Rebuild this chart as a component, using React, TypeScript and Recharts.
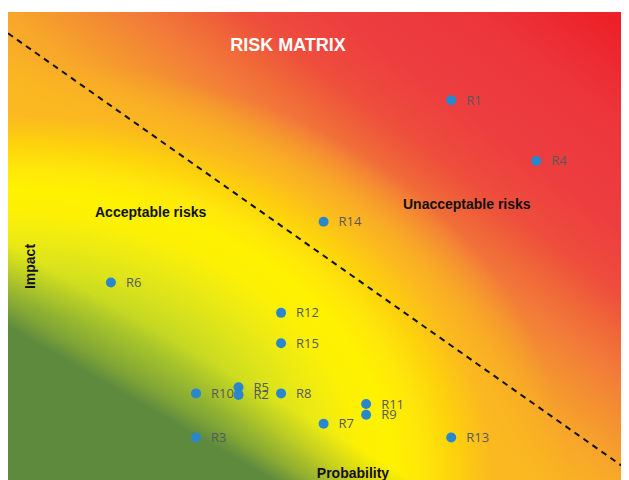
import React from 'react';
import { ScatterChart, Scatter, XAxis, YAxis, ReferenceArea, ReferenceLine } from 'recharts';

const names = ['R1', 'R2', 'R3', 'R4', 'R5', 'R6', 'R7', 'R8', 'R9', 'R10', 'R11', 'R12', 'R13', 'R14', 'R15'];
const probability = [10, 5, 4, 12, 5, 2, 7, 6, 8, 4, 8, 6, 10, 7, 6];
const impact = [12, 2.3, 0.9, 10, 2.55, 6, 1.35, 2.35, 1.65, 2.35, 2, 5, 0.9, 8, 4];

const xDomain = [-0.42, 14.18];
const yDomain = [-0.5, 14.9];
const threshold = [
  { x: -0.42, y: 14.2 },
  { x: 14.18, y: -0.2 },
];

const risks = names.map((name, i) => ({ name, x: probability[i], y: impact[i] }));

// orange -> red along the diagonal
const warmStops: [number, string][] = [
  [0, '#fbb820'],
  [0.42, '#fbb820'],
  [0.5, '#f7a62a'],
  [0.565, '#f38c33'],
  [0.61, '#f2783a'],
  [0.64, '#f06a38'],
  [0.69, '#ee4e3c'],
  [0.76, '#ed3e3f'],
  [0.87, '#ec363c'],
  [1, '#ed1c24'],
];

// lime -> yellow, spreading out of the bottom-left corner
const yellowStops: [number, string, number][] = [
  [0, '#a8c42d', 1],
  [0.36, '#b4cf28', 1],
  [0.45, '#d6e11d', 1],
  [0.52, '#eeeb12', 1],
  [0.57, '#fcf005', 1],
  [0.62, '#fff200', 1],
  [0.67, '#fee60a', 1],
  [0.72, '#fdd20c', 1],
  [0.78, '#fbb820', 1],
  [0.9, '#fbb820', 0],
];

// flat green wedge in the bottom-left corner
const greenStops: [number, number][] = [
  [0, 1],
  [0.557, 1],
  [0.637, 0.6],
  [0.746, 0.25],
  [0.855, 0],
];

const RiskDot = (props: any) => {
  const { cx, cy, payload } = props;
  return (
    <g>
      <circle cx={cx} cy={cy} r={5} fill="#2b87cb" />
      <text
        x={cx + 15}
        y={cy}
        dy="0.35em"
        fontSize={13}
        fontFamily="'Open Sans', sans-serif"
        fill="#595959"
      >
        {payload.name}
      </text>
    </g>
  );
};

const bold = "'Liberation Sans', Arial, sans-serif";

export default function App() {
  return (
    <div style={{ position: 'relative', width: 621, height: 472 }}>
      <ScatterChart width={621} height={472} margin={{ top: 4, right: 0, bottom: 0, left: 0 }}>
        <defs>
          <linearGradient id="warmBg" x1="0" y1="1" x2="1" y2="0">
            {warmStops.map(([o, c]) => (
              <stop key={o} offset={o} stopColor={c} />
            ))}
          </linearGradient>
          <radialGradient id="yellowBg" cx="0" cy="1" r="1" fx="0" fy="1">
            {yellowStops.map(([o, c, a]) => (
              <stop key={o} offset={o} stopColor={c} stopOpacity={a} />
            ))}
          </radialGradient>
          <linearGradient id="greenBg" gradientUnits="userSpaceOnUse" x1={0} y1={472} x2={119.5} y2={265.9}>
            {greenStops.map(([o, a]) => (
              <stop key={o} offset={o} stopColor="#5e8a3e" stopOpacity={a} />
            ))}
          </linearGradient>
        </defs>
        <XAxis type="number" dataKey="x" domain={xDomain} allowDataOverflow hide />
        <YAxis type="number" dataKey="y" domain={yDomain} allowDataOverflow hide />
        {['warmBg', 'yellowBg', 'greenBg'].map((id) => (
          <ReferenceArea
            key={id}
            x1={xDomain[0]}
            x2={xDomain[1]}
            y1={yDomain[0]}
            y2={yDomain[1]}
            fill={`url(#${id})`}
            fillOpacity={1}
            stroke="none"
          />
        ))}
        <ReferenceLine segment={threshold} stroke="#111" strokeWidth={2} strokeDasharray="6 5" />
        <Scatter data={risks} shape={RiskDot} isAnimationActive={false} />
      </ScatterChart>
      <svg
        width={621}
        height={472}
        style={{ position: 'absolute', left: 0, top: 0, pointerEvents: 'none' }}
      >
        <text x={280} y={43} textAnchor="middle" fill="#fff" fontSize={18} fontWeight="bold" fontFamily={bold}>
          RISK MATRIX
        </text>
        <text x={87} y={209} fill="#111" fontSize={14} fontWeight="bold" fontFamily={bold}>
          Acceptable risks
        </text>
        <text x={395} y={201} fill="#111" fontSize={14} fontWeight="bold" fontFamily={bold}>
          Unacceptable risks
        </text>
        <text
          x={27}
          y={258.5}
          textAnchor="middle"
          transform="rotate(-90, 27, 258.5)"
          fill="#111"
          fontSize={14}
          fontWeight="bold"
          fontFamily={bold}
        >
          Impact
        </text>
        <text x={345} y={470} textAnchor="middle" fill="#111" fontSize={14} fontWeight="bold" fontFamily={bold}>
          Probability
        </text>
      </svg>
    </div>
  );
}
